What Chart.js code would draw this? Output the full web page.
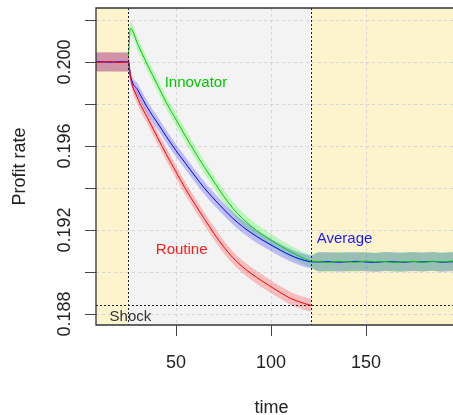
<!DOCTYPE html>
<html>
<head>
<meta charset="utf-8">
<script src="https://cdn.jsdelivr.net/npm/chart.js@4.4.1/dist/chart.umd.min.js"></script>
<style>
  html, body { margin: 0; padding: 0; background: #ffffff; }
  canvas { display: block; }
</style>
</head>
<body>
<canvas id="profit" width="453" height="415"></canvas>
<script>
// axis ticks
const yTicks = [0.188, 0.190, 0.192, 0.194, 0.196, 0.198, 0.200, 0.202];
const yTickLabels = ['0.188', '', '0.192', '', '0.196', '', '0.200', ''];
const xTicks = [50, 100, 150];
const xTickLabels = ['50', '100', '150'];

// shock window and routine floor
const shockStart = 25;
const shockEnd = 121;
const shockLevel = 0.18843;

// routine firms
const routineTime = [5, 10, 15, 20, 25, 26, 30, 35, 40, 45, 50, 55, 60, 65, 70, 75, 80, 85, 90, 95, 100, 105, 110, 115, 120, 121];
const routineRate = [0.20001, 0.19999, 0.20002, 0.19998, 0.20000, 0.19930, 0.19823, 0.19734, 0.19645, 0.19559,
  0.19477, 0.19396, 0.19323, 0.19252, 0.19184, 0.19121, 0.19068, 0.19025, 0.18990, 0.18959,
  0.18930, 0.18902, 0.18876, 0.18858, 0.18844, 0.18842];

// average over all firms
const averageTime = [5, 10, 15, 20, 25, 26, 30, 35, 40, 45, 50, 55, 60, 65, 70, 75, 80, 85, 90, 95, 100, 105, 110, 115, 120, 121,
  125, 130, 135, 140, 145, 150, 155, 160, 165, 170, 175, 180, 185, 190, 195, 200];
const averageRate = [0.20000, 0.20001, 0.19999, 0.20001, 0.20000, 0.19935, 0.19865, 0.19782, 0.19713, 0.19644,
  0.19578, 0.19518, 0.19457, 0.19399, 0.19348, 0.19300, 0.19255, 0.19217, 0.19184, 0.19155,
  0.19129, 0.19104, 0.19081, 0.19063, 0.19050, 0.19049,
  0.19048, 0.19050, 0.19047, 0.19049, 0.19051, 0.19048, 0.19046, 0.19050, 0.19049, 0.19047,
  0.19050, 0.19048, 0.19051, 0.19047, 0.19049, 0.19048];

// innovating firms
const innovatorTime = [25, 26, 30, 35, 40, 45, 50, 55, 60, 65, 70, 75, 80, 85, 90, 95, 100, 105, 110, 115, 120, 121,
  125, 130, 135, 140, 145, 150, 155, 160, 165, 170, 175, 180, 185, 190, 195, 200];
const innovatorRate = [0.20030, 0.20160, 0.20082, 0.19986, 0.19896, 0.19805, 0.19726, 0.19647, 0.19571, 0.19499,
  0.19430, 0.19363, 0.19303, 0.19255, 0.19215, 0.19181, 0.19152, 0.19124, 0.19098, 0.19075,
  0.19055, 0.19052,
  0.19050, 0.19046, 0.19051, 0.19049, 0.19047, 0.19052, 0.19048, 0.19050, 0.19046, 0.19049,
  0.19051, 0.19047, 0.19050, 0.19048, 0.19052, 0.19049];

// half width of the shaded bands
const steadyBand = 0.00045;
const transitionBand = 0.0003;

const YELLOW = '#fdf3cd';
const GREY = '#f3f3f3';
const INK = '#222222';
const FONT = "'Liberation Sans', Arial, sans-serif";

function bandHalf(t) {
  return (t <= shockStart || t > shockEnd) ? steadyBand : transitionBand;
}

function points(times, rates, shift) {
  return times.map((t, i) => ({ x: t, y: rates[i] + shift * bandHalf(t) }));
}

function band(times, rates, fillColor) {
  return [
    { data: points(times, rates, 1), fill: '+1', backgroundColor: fillColor,
      borderColor: 'transparent', borderWidth: 0, pointRadius: 0, order: 10 },
    { data: points(times, rates, -1), fill: false,
      borderColor: 'transparent', borderWidth: 0, pointRadius: 0, order: 10 }
  ];
}

function line(times, rates, color, order) {
  return { data: points(times, rates, 0), fill: false, borderColor: color,
    borderWidth: 1, pointRadius: 0, order: order };
}

// backgrounds, grid, shock markers, box and all the text
const framePlugin = {
  id: 'frame',
  beforeDatasetsDraw(chart) {
    const { ctx, chartArea: a } = chart;
    const x = chart.scales.x, y = chart.scales.y;
    const xs = x.getPixelForValue(shockStart);
    const xe = x.getPixelForValue(shockEnd);
    ctx.save();
    ctx.fillStyle = YELLOW;
    ctx.fillRect(a.left, a.top, xs - a.left, a.bottom - a.top);
    ctx.fillRect(xe, a.top, a.right - xe, a.bottom - a.top);
    ctx.fillStyle = GREY;
    ctx.fillRect(xs, a.top, xe - xs, a.bottom - a.top);

    ctx.strokeStyle = '#d6d6d6';
    ctx.lineWidth = 1;
    ctx.setLineDash([3, 3]);
    ctx.beginPath();
    yTicks.forEach(v => {
      const py = Math.round(y.getPixelForValue(v)) + 0.5;
      ctx.moveTo(a.left, py);
      ctx.lineTo(a.right, py);
    });
    xTicks.forEach(v => {
      const px = Math.round(x.getPixelForValue(v)) + 0.5;
      ctx.moveTo(px, a.top);
      ctx.lineTo(px, a.bottom);
    });
    ctx.stroke();
    ctx.restore();
  },
  afterDatasetsDraw(chart) {
    const { ctx, chartArea: a } = chart;
    const x = chart.scales.x, y = chart.scales.y;
    ctx.save();

    // shock markers
    ctx.strokeStyle = INK;
    ctx.lineWidth = 1;
    ctx.setLineDash([2, 2]);
    ctx.beginPath();
    [shockStart, shockEnd].forEach(t => {
      const px = Math.round(x.getPixelForValue(t)) + 0.5;
      ctx.moveTo(px, a.top);
      ctx.lineTo(px, a.bottom);
    });
    const sy = Math.round(y.getPixelForValue(shockLevel)) + 0.5;
    ctx.moveTo(a.left, sy);
    ctx.lineTo(a.right, sy);
    ctx.stroke();
    ctx.setLineDash([]);

    // box (right side runs off the canvas)
    ctx.strokeStyle = '#333333';
    ctx.lineWidth = 1.3;
    ctx.beginPath();
    ctx.moveTo(a.right + 2, a.top);
    ctx.lineTo(a.left, a.top);
    ctx.lineTo(a.left, a.bottom);
    ctx.lineTo(a.right + 2, a.bottom);
    ctx.stroke();

    // tick marks
    ctx.lineWidth = 1;
    ctx.strokeStyle = '#444444';
    ctx.beginPath();
    yTicks.forEach(v => {
      const py = Math.round(y.getPixelForValue(v)) + 0.5;
      ctx.moveTo(a.left - 11, py);
      ctx.lineTo(a.left, py);
    });
    xTicks.forEach(v => {
      const px = Math.round(x.getPixelForValue(v)) + 0.5;
      ctx.moveTo(px, a.bottom);
      ctx.lineTo(px, a.bottom + 11);
    });
    ctx.stroke();

    // tick labels
    ctx.fillStyle = INK;
    ctx.font = '18px ' + FONT;
    ctx.textAlign = 'center';
    ctx.textBaseline = 'alphabetic';
    xTicks.forEach((v, i) => {
      ctx.fillText(xTickLabels[i], x.getPixelForValue(v), 368);
    });
    yTicks.forEach((v, i) => {
      if (!yTickLabels[i]) return;
      ctx.save();
      ctx.translate(70, y.getPixelForValue(v));
      ctx.rotate(-Math.PI / 2);
      ctx.fillText(yTickLabels[i], 0, 0);
      ctx.restore();
    });

    // axis titles
    ctx.fillText('time', (a.left + a.right) / 2 - 3, 413);
    ctx.save();
    ctx.translate(25, (a.top + a.bottom) / 2);
    ctx.rotate(-Math.PI / 2);
    ctx.fillText('Profit rate', 0, 0);
    ctx.restore();

    // series labels
    ctx.font = '15px ' + FONT;
    ctx.textBaseline = 'middle';
    const notes = [
      ['Innovator', 60.5, 0.19900, '#00c800'],
      ['Routine', 53, 0.19105, '#ff1a1a'],
      ['Average', 138.7, 0.19157, '#1a1aff'],
      ['Shock', 26, 0.18786, '#333333']
    ];
    notes.forEach(([text, t, v, color]) => {
      ctx.fillStyle = color;
      ctx.fillText(text, x.getPixelForValue(t), y.getPixelForValue(v));
    });
    ctx.restore();
  }
};

new Chart(document.getElementById('profit'), {
  type: 'line',
  data: {
    datasets: [
      ...band(routineTime, routineRate, 'rgba(255, 0, 0, 0.22)'),
      ...band(averageTime, averageRate, 'rgba(0, 0, 255, 0.22)'),
      ...band(innovatorTime, innovatorRate, 'rgba(0, 255, 0, 0.22)'),
      line(averageTime, averageRate, '#0000ff', 3),
      line(innovatorTime, innovatorRate, '#00cd00', 2),
      line(routineTime, routineRate, '#ff0000', 1)
    ]
  },
  options: {
    responsive: false,
    devicePixelRatio: 1,
    animation: false,
    layout: { padding: { top: 8, right: 0, bottom: 0, left: 0 } },
    elements: { line: { cubicInterpolationMode: 'monotone' } },
    plugins: { legend: { display: false }, tooltip: { enabled: false } },
    scales: {
      x: {
        type: 'linear', min: 7.9, max: 195.8,
        ticks: { display: false }, grid: { display: false }, border: { display: false },
        afterFit(scale) { scale.height = 90; }
      },
      y: {
        type: 'linear', min: 0.18748, max: 0.20257,
        ticks: { display: false }, grid: { display: false }, border: { display: false },
        afterFit(scale) { scale.width = 96; }
      }
    }
  },
  plugins: [framePlugin]
});
</script>
</body>
</html>
